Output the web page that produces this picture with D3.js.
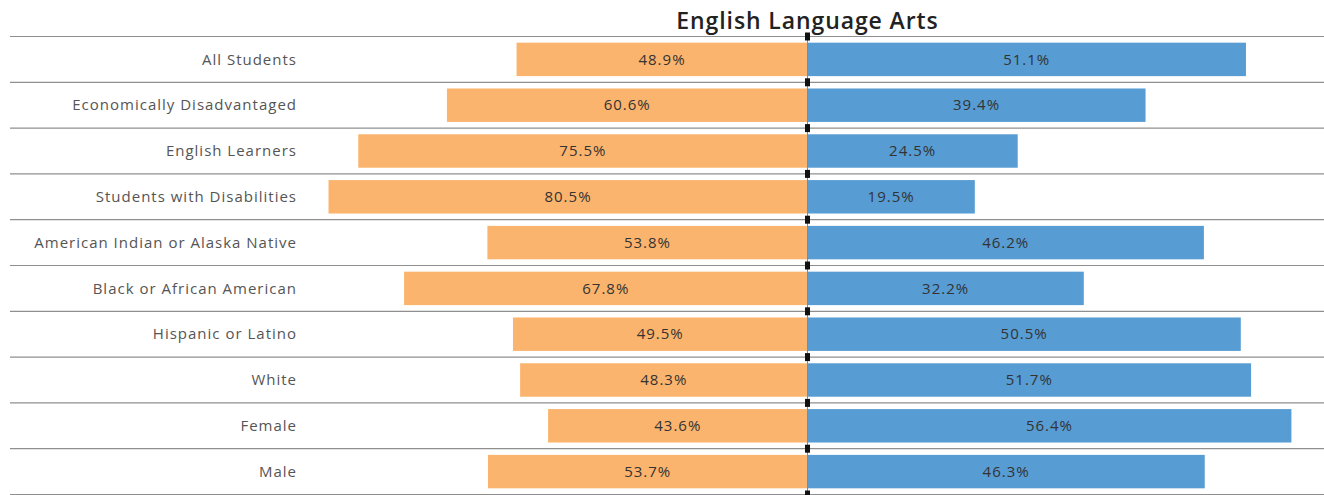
<!DOCTYPE html>
<html>
<head>
<meta charset="utf-8">
<script src="https://cdn.jsdelivr.net/npm/d3@7"></script>
<style>
  html, body { margin: 0; padding: 0; background: #fff; }
  svg { display: block; }
</style>
</head>
<body>
<svg id="chart" width="1324" height="495"></svg>
<script>
const categories = [
  "All Students",
  "Economically Disadvantaged",
  "English Learners",
  "Students with Disabilities",
  "American Indian or Alaska Native",
  "Black or African American",
  "Hispanic or Latino",
  "White",
  "Female",
  "Male"
];
const notProficient = [48.9, 60.6, 75.5, 80.5, 53.8, 67.8, 49.5, 48.3, 43.6, 53.7];
const proficient    = [51.1, 39.4, 24.5, 19.5, 46.2, 32.2, 50.5, 51.7, 56.4, 46.3];
const title = "English Language Arts";

const svg = d3.select("#chart");
const W = 1324, H = 495;
const center = 807.5;

const y = d3.scaleBand().domain(categories).range([36.5, 494.5]).paddingInner(0.27).paddingOuter(0.135);
const xLeft = d3.scaleLinear().domain([0, 100]).range([center, center - 595]);
const xRight = d3.scaleLinear().domain([0, 100]).range([center, center + 858]);

const orange = "#FBB46D";
const blue = "#579CD3";
const font = "'Open Sans', 'Noto Sans', sans-serif";

// Title
svg.append("text")
  .attr("x", center).attr("y", 29)
  .attr("text-anchor", "middle")
  .attr("font-family", font)
  .attr("font-weight", 600)
  .attr("font-size", 23)
  .attr("letter-spacing", 0.9)
  .attr("fill", "#222")
  .text(title);

// Separator lines
const sepYs = d3.range(categories.length + 1).map(i => 36.5 + i * (458 / categories.length));
svg.selectAll("line.sep").data(sepYs).join("line")
  .attr("class", "sep")
  .attr("x1", 10).attr("x2", W)
  .attr("y1", d => d).attr("y2", d => d)
  .attr("stroke", "#8f8f8f").attr("stroke-width", 1.2);

// Left bars
svg.selectAll("rect.left").data(categories).join("rect")
  .attr("class", "left")
  .attr("x", (d, i) => xLeft(notProficient[i]))
  .attr("width", (d, i) => center - xLeft(notProficient[i]))
  .attr("y", d => y(d))
  .attr("height", y.bandwidth())
  .attr("fill", orange);

// Right bars
svg.selectAll("rect.right").data(categories).join("rect")
  .attr("class", "right")
  .attr("x", center)
  .attr("width", (d, i) => xRight(proficient[i]) - center)
  .attr("y", d => y(d))
  .attr("height", y.bandwidth())
  .attr("fill", blue);

// Center line markers
svg.append("line")
  .attr("x1", center).attr("x2", center)
  .attr("y1", 36).attr("y2", 495)
  .attr("stroke", "#8a8a7a").attr("stroke-width", 1);
svg.selectAll("rect.mark").data(sepYs).join("rect")
  .attr("class", "mark")
  .attr("x", center - 2.5).attr("width", 5)
  .attr("y", d => d - 4).attr("height", 8)
  .attr("fill", "#111");

// Category labels
svg.selectAll("text.cat").data(categories).join("text")
  .attr("class", "cat")
  .attr("x", 297)
  .attr("y", d => y(d) + y.bandwidth() / 2)
  .attr("dy", "0.35em")
  .attr("text-anchor", "end")
  .attr("font-family", font)
  .attr("font-size", 15)
  .attr("letter-spacing", 1)
  .attr("fill", "#555")
  .text(d => d);

// Value labels
const fmt = v => v.toFixed(1) + "%";
svg.selectAll("text.lv").data(categories).join("text")
  .attr("class", "lv")
  .attr("x", (d, i) => (xLeft(notProficient[i]) + center) / 2)
  .attr("y", d => y(d) + y.bandwidth() / 2)
  .attr("dy", "0.35em")
  .attr("text-anchor", "middle")
  .attr("font-family", font)
  .attr("font-size", 15)
  .attr("letter-spacing", 1)
  .attr("fill", "#333")
  .text((d, i) => fmt(notProficient[i]));
svg.selectAll("text.rv").data(categories).join("text")
  .attr("class", "rv")
  .attr("x", (d, i) => (xRight(proficient[i]) + center) / 2)
  .attr("y", d => y(d) + y.bandwidth() / 2)
  .attr("dy", "0.35em")
  .attr("text-anchor", "middle")
  .attr("font-family", font)
  .attr("font-size", 15)
  .attr("letter-spacing", 1)
  .attr("fill", "#333")
  .text((d, i) => fmt(proficient[i]));
</script>
</body>
</html>
